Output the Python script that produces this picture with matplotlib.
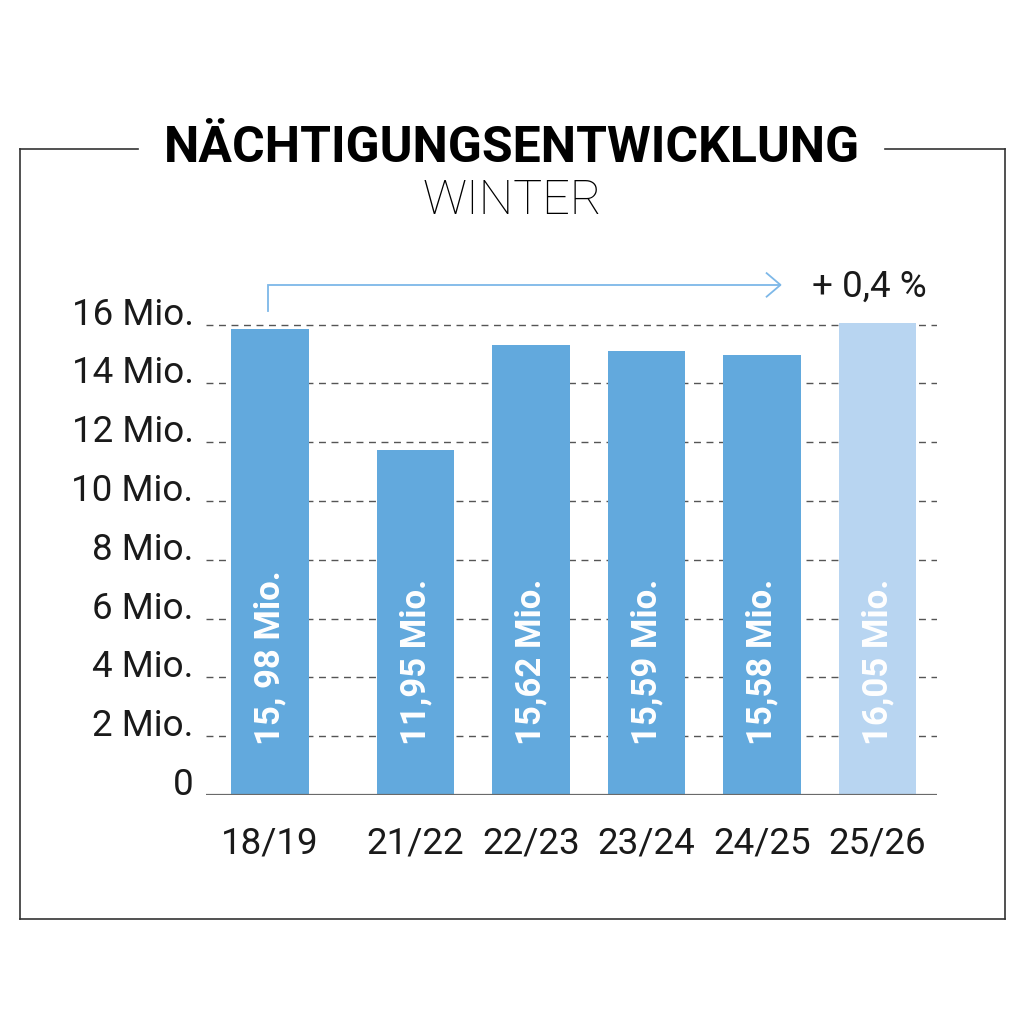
import matplotlib
matplotlib.use("Agg")
import matplotlib.pyplot as plt
from matplotlib.lines import Line2D

plt.rcParams["font.family"] = ["Roboto", "DejaVu Sans"]

SEASONS = ["18/19", "21/22", "22/23", "23/24", "24/25", "25/26"]
POSITIONS = [0, 1.26, 2.26, 3.26, 4.26, 5.26]
HEIGHTS = [15.85, 11.73, 15.3, 15.1, 14.97, 16.07]  # bar heights as drawn (Mio.)
LABELS = ["15, 98 Mio.", "11,95 Mio.", "15,62 Mio.", "15,59 Mio.", "15,58 Mio.", "16,05 Mio."]
COLORS = ["#62a9dd"] * 5 + ["#b8d5f1"]
YTICKS = [0, 2, 4, 6, 8, 10, 12, 14, 16]
YTICK_LABELS = ["0"] + [f"{v} Mio." for v in YTICKS[1:]]
CHANGE = "+ 0,4 %"

W = H = 1024
fig = plt.figure(figsize=(10.24, 10.24), dpi=100)

# axes placed in pixel terms: x 206..937, baseline at y=795, 29.4 px per Mio.
ymax = 18
px_per = 29.4
top_px = 795 - ymax * px_per
ax = fig.add_axes([206 / W, (H - 795) / H, (937 - 206) / W, (795 - top_px) / H])
ax.set_xlim(-0.554, 5.775)
ax.set_ylim(0, ymax)

for y in YTICKS[1:]:
    ax.axhline(y, color="#555555", lw=1, ls=(0, (5, 4)), zorder=1)
ax.axhline(0, color="#6a6a6a", lw=1.6, zorder=3)

ax.bar(POSITIONS, HEIGHTS, width=0.675, color=COLORS, zorder=2)
for x, lab in zip(POSITIONS, LABELS):
    ax.text(x, 1.7, lab, rotation=90, ha="center", va="bottom", color="white",
            fontsize=25, fontweight="bold", zorder=4)

ax.set_yticks(YTICKS)
ax.set_yticklabels(YTICK_LABELS)
ax.set_xticks(POSITIONS)
ax.set_xticklabels(SEASONS)
ax.tick_params(axis="y", length=0, pad=9, labelsize=26.5, labelcolor="#1a1a1a")
ax.tick_params(axis="x", length=0, pad=22, labelsize=26.5, labelcolor="#1a1a1a")
for lab in ax.get_yticklabels():
    lab.set_verticalalignment("baseline")
for lab in ax.get_xticklabels() + ax.get_yticklabels():
    lab.set_fontweight("normal")
for s in ax.spines.values():
    s.set_visible(False)

# growth arrow from first season to last
arrow_col = "#7db8e8"
ax.plot([-0.02, -0.02, 4.42], [16.46, 17.35, 17.35], color=arrow_col, lw=1.3,
        clip_on=False, solid_joinstyle="miter")
ax.plot([4.3, 4.42, 4.3], [17.75, 17.35, 16.95], color=arrow_col, lw=1.3, clip_on=False)
ax.text(4.69, 17.3, CHANGE, ha="left", va="center", fontsize=26.5, fontweight="normal",
        color="#1a1a1a")

# frame with gap for the title
fy = (H - 149) / H
fb = (H - 919) / H
fc = "#333333"
fig.add_artist(Line2D([20 / W, 138 / W], [fy, fy], color=fc, lw=1.2))
fig.add_artist(Line2D([885 / W, 1005 / W], [fy, fy], color=fc, lw=1.2))
fig.add_artist(Line2D([20 / W, 20 / W], [fy, fb], color=fc, lw=1.2))
fig.add_artist(Line2D([1005 / W, 1005 / W], [fy, fb], color=fc, lw=1.2))
fig.add_artist(Line2D([20 / W, 1005 / W], [fb, fb], color=fc, lw=1.2))

fig.text(512 / W, (H - 149) / H, "NÄCHTIGUNGSENTWICKLUNG", ha="center", va="center",
         fontsize=36, fontweight="bold", color="black")
fig.text(512 / W, (H - 201) / H, "WINTER", ha="center", va="center",
         fontsize=35, fontweight="light", color="black")

fig.savefig("out.png", dpi=100, facecolor="white")
